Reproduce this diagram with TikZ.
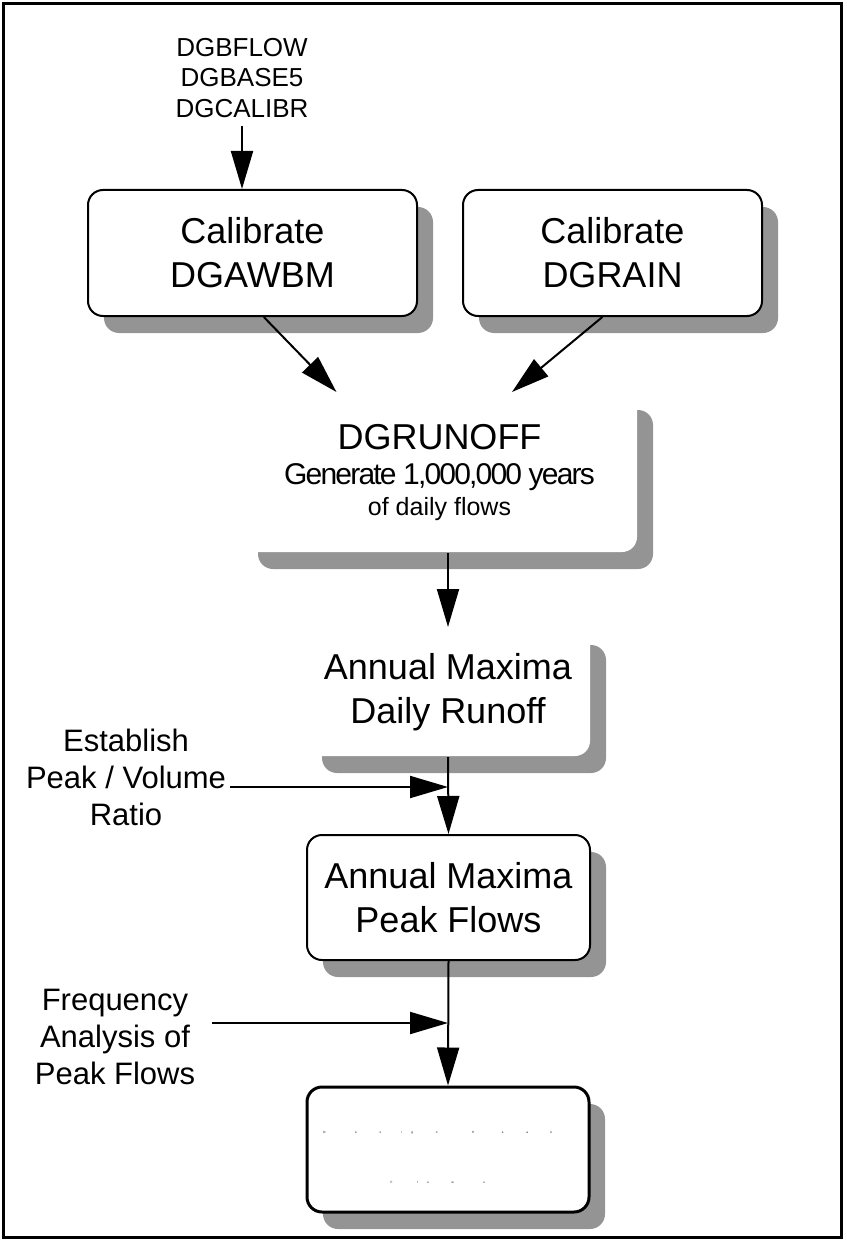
\documentclass[tikz,border=0pt]{standalone}
\usepackage{fontspec}
\setmainfont{Liberation Sans}
\newfontfamily\tightfont[LetterSpace=-6]{Liberation Sans}
\usepackage{calc}
\usetikzlibrary{arrows.meta, shadows}

% letters that print as specks, keeping the width of the full-size letter
\newcommand{\faint}[1]{\makebox[\widthof{#1}][l]{\fontsize{3}{3}\selectfont #1}}

\begin{document}
\begin{tikzpicture}[x=1pt, y=-1pt,
    procbox/.style={draw, line width=2pt, fill=white, rounded corners=15pt, align=center,
        inner sep=0pt, font=\fontsize{36}{44}\selectfont,
        drop shadow={shadow xshift=16pt, shadow yshift=-17pt, fill=black!42, opacity=1}},
    plainbox/.style={procbox, draw=none},
    note/.style={align=center, inner sep=4pt, font=\fontsize{31}{37}\selectfont},
    flow/.style={line width=2pt, -{Triangle[length=38pt, width=22pt]}}]
    \useasboundingbox (0,0) rectangle (846,1241);
    \draw[line width=3pt] (3.5,3.5) rectangle (841.5,1237.5);

    % inputs and calibration
    \node[note, inner sep=8pt, font=\fontsize{26}{30.5}\selectfont] (inputs) at (242,78) {DGBFLOW\\DGBASE5\\DGCALIBR};
    \node[procbox, minimum width=329pt, minimum height=126pt] (awbm) at (252.5,253) {Calibrate\\DGAWBM};
    \node[procbox, minimum width=299pt, minimum height=126pt] (rain) at (612.5,253) {Calibrate\\DGRAIN};

    % generation and maxima
    \node[plainbox, minimum width=395pt, minimum height=159pt, font=\fontsize{36}{33}\selectfont] (gen) at (439.5,472.5)
        {DGRUNOFF\\[2pt] {\tightfont\fontsize{30}{33}\selectfont Generate 1,000,000 years}\\[-2pt] {\fontsize{25}{33}\selectfont of daily flows}};
    \node[plainbox, minimum width=284pt, minimum height=128pt] (daily) at (448,692) {Annual Maxima\\Daily Runoff};
    \node[procbox, minimum width=283pt, minimum height=125pt] (peak) at (448.5,897.5) {Annual Maxima\\Peak Flows};
    \node[procbox, line width=3pt, minimum width=282pt, minimum height=125pt, font=\fontsize{44}{50}\selectfont] (design) at (448,1149.5)
        {\rule{0pt}{18pt}\faint{D}\faint{e}\faint{s}\faint{i}\faint{g}\faint{n} \faint{P}\faint{e}\faint{a}\faint{k}\\\faint{F}\faint{l}\faint{o}\faint{w}\faint{s}};

    % side inputs
    \node[note] (ratio) at (126,777) {Establish\\Peak / Volume\\Ratio};
    \node[note] (freq) at (115,1037) {Frequency\\Analysis of\\Peak Flows};
    \coordinate (pvtip) at (448,787);
    \coordinate (fqtail) at (212,1023);
    \coordinate (fqtip) at (448,1023);

    % flow arrows
    \draw[flow] (inputs.south) -- (inputs.south |- awbm.north);
    \draw[flow] (awbm.-80) -- (gen.142);
    \draw[flow] (rain.-99) -- (gen.48);
    \draw[flow] (gen.south -| daily.north) -- (daily.north);
    \draw[flow] (daily.south) -- (peak.north);
    \draw[flow] (peak.south) -- (design.north);
    \draw[flow] (ratio.east |- pvtip) -- (pvtip);
    \draw[flow] (fqtail) -- (fqtip);
\end{tikzpicture}
\end{document}
